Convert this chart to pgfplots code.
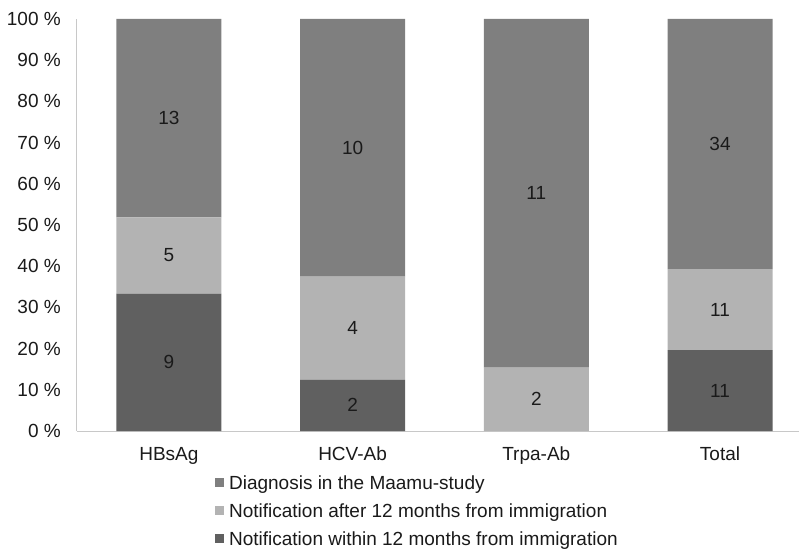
\documentclass[border=0pt]{standalone}
\usepackage{pgfplots}
\pgfplotsset{compat=1.18}
\usepackage{pgfplotstable}
\usepackage{fontspec}
\setmainfont{Liberation Sans}
\definecolor{cdark}{HTML}{606060}
\definecolor{clight}{HTML}{B3B3B3}
\definecolor{cmid}{HTML}{7F7F7F}
\definecolor{ctext}{HTML}{1A1A1A}
\definecolor{caxis}{HTML}{C8C8C8}

% percentages of each group, with counts as labels
\pgfplotstableread{
x  y       lab
0  33.333  9
1  12.5    2
2  0       {}
3  19.643  11
}\within
\pgfplotstableread{
x  y       lab
0  18.519  5
1  25.0    4
2  15.385  2
3  19.643  11
}\after
\pgfplotstableread{
x  y       lab
0  48.148  13
1  62.5    10
2  84.615  11
3  60.714  34
}\diag

\begin{document}
\begin{tikzpicture}
\useasboundingbox (-77pt,-118pt) rectangle (722pt,431pt);
\begin{axis}[
  scale only axis,
  width=722pt, height=412pt,
  ybar stacked,
  bar width=105pt,
  xmin=-0.5, xmax=3.43,
  ymin=0, ymax=100,
  axis lines*=left,
  axis line style={caxis, line width=1pt},
  x axis line style={-},
  y axis line style={-},
  major tick length=0pt,
  ytick={0,10,...,100},
  yticklabel={\pgfmathprintnumber{\tick}~\%},
  /pgf/number format/assume math mode=true,
  xtick={0,1,2,3},
  xticklabels={HBsAg,HCV-Ab,Trpa-Ab,Total},
  yticklabel style={font=\fontsize{19}{22}\selectfont, text=ctext, inner sep=0pt, anchor=east, xshift=-16pt},
  xticklabel style={font=\fontsize{19}{22}\selectfont, text=ctext, inner sep=0pt, anchor=north, yshift=-16pt},
  nodes near coords,
  point meta=explicit symbolic,
  every node near coord/.append style={font=\fontsize{19}{22}\selectfont, text=ctext},
  reverse legend,
  legend cell align=left,
  legend style={at={(axis description cs:0.191,-0.107)}, anchor=north west, draw=none,
    font=\fontsize{19}{22}\selectfont, text=ctext, row sep=14.5pt, column sep=5pt, inner sep=0pt,
    nodes={inner sep=0pt, text depth=0pt}},
  legend image code/.code={\fill[#1] (0pt,-4.5pt) rectangle (9pt,4.5pt);},
]
\addplot[fill=cdark, draw=none] table[x=x, y=y, meta=lab] {\within};
\addlegendentry{Notification within 12 months from immigration}
\addplot[fill=clight, draw=none] table[x=x, y=y, meta=lab] {\after};
\addlegendentry{Notification after 12 months from immigration}
\addplot[fill=cmid, draw=none] table[x=x, y=y, meta=lab] {\diag};
\addlegendentry{Diagnosis in the Maamu-study}
\end{axis}
\end{tikzpicture}
\end{document}
